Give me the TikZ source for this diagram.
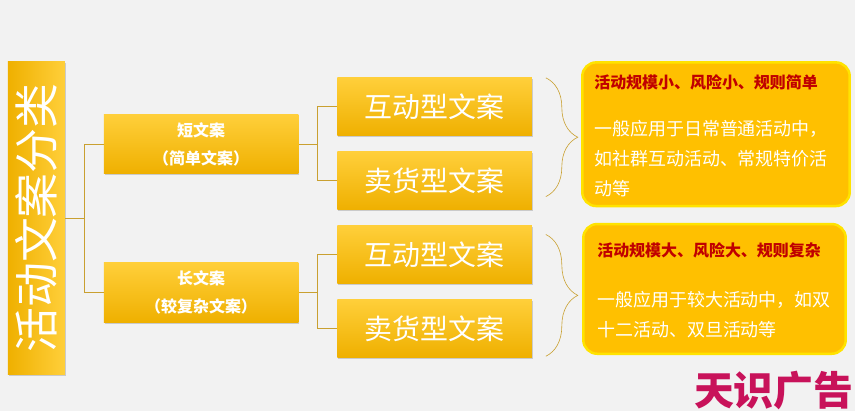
\documentclass[tikz,border=0pt]{standalone}
\usepackage{fontspec}
\newfontfamily\cjk{Noto Sans CJK SC}
\usetikzlibrary{positioning,shadows,decorations.pathreplacing}
\definecolor{bgray}{HTML}{F2F2F2}
\definecolor{gold}{HTML}{FFC000}
\definecolor{goldtop}{HTML}{FFCF3A}
\definecolor{goldbot}{HTML}{EFB000}
\definecolor{linecol}{HTML}{C9A030}
\definecolor{darkred}{HTML}{C00000}
\definecolor{mark}{HTML}{C8125A}
\begin{document}
\begin{tikzpicture}[
        x=1pt, y=-1pt,
        shade/.style={drop shadow={shadow xshift=1pt, shadow yshift=-1.5pt, opacity=0.35}, inner sep=0pt, text=white},
        box/.style={shade, top color=goldtop, bottom color=goldbot, font=\cjk},
        info/.style={rounded corners=14pt, fill=gold, draw=gold!45!yellow, line width=2.5pt, inner sep=0pt},
        link/.style={draw=linecol, line width=0.7pt}
    ]
        \fill[bgray] (0,0) rectangle (857,412);

        % title column
        \node[shade, left color=goldbot, right color=goldtop, minimum width=57pt, minimum height=313pt] (title) at (36.5,218.5) {};
        \node[rotate=90, text=white, font=\cjk\fontsize{45}{45}\selectfont] at (title.center) {活动文案分类};

        % second level
        \node[box, minimum width=195pt, minimum height=59pt, align=center, font=\cjk\bfseries\fontsize{16}{28}\selectfont] (short) at (201.5,144.5) {短文案\\（简单文案）};
        \node[box, minimum width=195pt, minimum height=60pt, align=center, font=\cjk\bfseries\fontsize{16}{28}\selectfont] (long) at (201.5,293) {长文案\\（较复杂文案）};

        % third level
        \foreach \name/\yy/\txt in {s1/107/互动型文案, s2/181/卖货型文案, l1/255/互动型文案, l2/329/卖货型文案}
            \node[box, minimum width=195pt, minimum height=58pt, font=\cjk\fontsize{28}{28}\selectfont] (\name) at (435.5,\yy) {\txt};

        % connectors
        \coordinate (j0) at (85,218.5);
        \draw[link] (title.east) -- (j0);
        \draw[link] (short.west) -| (j0) |- (long.west);
        \draw[link] (short.east) -- ++(19,0) coordinate (j1);
        \draw[link] (s1.west) -| (j1) |- (s2.west);
        \draw[link] (long.east) -- ++(19,0) coordinate (j2);
        \draw[link] (l1.west) -| (j2) |- (l2.west);

        % descriptions
        \node[info, minimum width=268pt, minimum height=144pt] (d1) at (717.5,134.5) {};
        \node[anchor=north west, text=darkred, font=\cjk\bfseries\fontsize{16}{18}\selectfont] (d1t) at (592,71) {活动规模小、风险小、规则简单};
        \node[anchor=north west, text=white, align=left, font=\cjk\fontsize{18}{30}\selectfont] (d1b) at (592,117) {一般应用于日常普通活动中，\\如社群互动活动、常规特价活\\动等};
        \node[info, minimum width=263pt, minimum height=130pt] (d2) at (716,289.5) {};
        \node[anchor=north west, text=darkred, font=\cjk\bfseries\fontsize{16}{18}\selectfont] (d2t) at (595,240) {活动规模大、风险大、规则复杂};
        \node[anchor=north west, text=white, align=left, font=\cjk\fontsize{18}{30}\selectfont] (d2b) at (595,288) {一般应用于较大活动中，如双\\十二活动、双旦活动等};

        % braces
        \draw[link, line width=0.6pt, decorate, decoration={brace, amplitude=32pt, aspect=0.5}] (547,78) -- (547,197);
        \draw[link, line width=0.6pt, decorate, decoration={brace, amplitude=32pt, aspect=0.5}] (547,235) -- (547,357);

        \node[text=mark, font=\cjk\bfseries\fontsize{40}{40}\selectfont, anchor=south east] (wm) at (859,414) {天识广告};
\end{tikzpicture}
\end{document}
